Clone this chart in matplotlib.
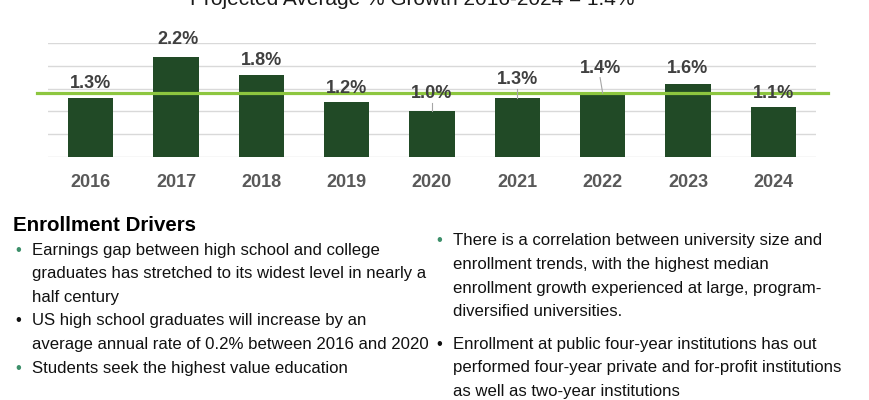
import matplotlib
matplotlib.use("Agg")
import matplotlib.pyplot as plt

plt.rcParams['font.family'] = ['Liberation Sans', 'DejaVu Sans']

# data
years = ['2016', '2017', '2018', '2019', '2020', '2021', '2022', '2023', '2024']
growth = [1.3, 2.2, 1.8, 1.2, 1.0, 1.3, 1.4, 1.6, 1.1]
avg_growth = 1.4
title = 'Projected Average % Growth 2016-2024 = 1.4%'

# label placement (layout only)
label_y = [1.62, 2.57, 2.11, 1.51, 1.40, 1.71, 1.95, 1.93, 1.40]
label_dx = [0, 0.02, 0, 0, 0, 0, -0.03, 0, 0]
leader = [False, False, False, False, True, True, True, False, False]

heading = 'Enrollment Drivers'
left_items = [
    ('green', ['Earnings gap between high school and college',
               'graduates has stretched to its widest level in nearly a',
               'half century']),
    ('black', ['US high school graduates will increase by an',
               'average annual rate of 0.2% between 2016 and 2020']),
    ('green', ['Students seek the highest value education']),
]
right_items = [
    ('green', ['There is a correlation between university size and',
               'enrollment trends, with the highest median',
               'enrollment growth experienced at large, program-',
               'diversified universities.']),
    ('black', ['Enrollment at public four-year institutions has out',
               'performed four-year private and for-profit institutions',
               'as well as two-year institutions']),
]

W, H = 870, 400
fig = plt.figure(figsize=(W / 100, H / 100), dpi=100)
ax = fig.add_axes([48 / W, (H - 157) / H, (816 - 48) / W, (157 - 43) / H])

x = list(range(len(years)))
ax.bar(x, growth, width=0.53, color='#214a26', zorder=2)
ax.set_xlim(-0.5, len(years) - 0.5)
ax.set_ylim(0, 2.5)
ax.set_yticks([0, 0.5, 1.0, 1.5, 2.0, 2.5])
ax.yaxis.grid(True, color='#d9d9d9', lw=1)
ax.set_axisbelow(True)
ax.set_yticklabels([])
ax.tick_params(axis='y', length=0)
for s in ax.spines.values():
    s.set_visible(False)
ax.set_xticks(x)
ax.set_xticklabels(years, fontsize=13, fontweight='bold', color='#595959')
ax.tick_params(axis='x', length=0, pad=12)

ax.plot([-0.63, len(years) - 0.36], [avg_growth, avg_growth], color='#8dc63f',
        lw=2.3, clip_on=False, zorder=3)

for i, v in enumerate(growth):
    ax.text(i + label_dx[i], label_y[i], f'{v:.1f}%', ha='center', va='center',
            fontsize=13, fontweight='bold', color='#404040', zorder=4, clip_on=False)
    if leader[i]:
        ax.plot([i + label_dx[i], i], [label_y[i] - 0.21, v], color='#a6a6a6',
                lw=0.8, zorder=3)

# title sits partly above the top edge, as in the source
fig.text(412 / W, 1 - 5 / H, title, ha='center', va='baseline', fontsize=15, color='#1a1a1a')

fig.text(13 / W, 1 - 231 / H, heading, ha='left', va='baseline', fontsize=14.8,
         fontweight='bold', color='#000000')

colors = {'green': '#3d8f6a', 'black': '#111111'}


def draw_items(items, bx, tx, baselines):
    k = 0
    for col, lines in items:
        for j, line in enumerate(lines):
            yb = 1 - baselines[k] / H
            if j == 0:
                fig.text(bx / W, yb, '\u2022', ha='center', va='baseline',
                         fontsize=12, color=colors[col])
            fig.text(tx / W, yb, line, ha='left', va='baseline', fontsize=12.1,
                     color='#111111')
            k += 1


draw_items(left_items, 18, 32, [254.5, 278.2, 301.8, 325.5, 349, 372.6])
draw_items(right_items, 439, 453, [245.5, 269.1, 292.7, 316.3, 348.5, 372.1, 395.7])

fig.savefig('out.png', dpi=100)
